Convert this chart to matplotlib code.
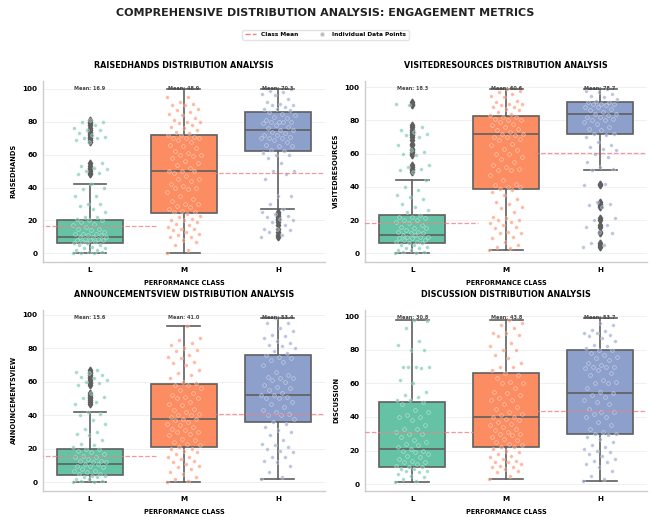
import numpy as np
import matplotlib.pyplot as plt
from matplotlib.lines import Line2D

# ---- data ----
classes = ["L", "M", "H"]
palette = ["#66c2a5", "#fc8d62", "#8da0cb"]
metrics = ["raisedhands", "VisITedResources", "AnnouncementsView", "Discussion"]

# reported class means
means = {
    "raisedhands": [16.9, 48.9, 70.3],
    "VisITedResources": [18.3, 60.6, 78.7],
    "AnnouncementsView": [15.6, 41.0, 53.4],
    "Discussion": [30.8, 43.8, 53.7],
}

# box summaries per class: (whislo, q1, median, q3, whishi)
box_raisedhands = [(0, 6, 10, 20.5, 42), (0, 24.3, 50, 72, 100), (27, 62, 75, 86, 100)]
box_visited = [(0, 6, 11, 23, 44), (2, 38.7, 72, 82.4, 99), (50, 72, 84, 91, 99)]
box_announce = [(0, 4.5, 11, 20, 42), (0, 21, 38, 58.5, 93), (2, 36, 52, 76, 98)]
box_discussion = [(1, 10, 21, 49, 98), (3, 22, 40, 66, 98), (2, 30, 54, 80, 99)]

# outliers per class
fl_raisedhands = [[48, 49, 50, 51, 52, 53, 55, 68, 69, 70, 71, 72, 73, 74, 75, 76, 78, 79, 80, 81],
                  [],
                  [10, 11, 13, 15, 17, 19, 20, 21, 22, 23, 24, 25]]
fl_visited = [[49, 50, 51, 52, 53, 59, 60, 61, 62, 63, 65, 66, 68, 70, 71, 72, 73, 74, 76, 77, 89, 90, 91],
              [],
              [4, 5, 6, 12, 13, 16, 17, 20, 21, 28, 29, 30, 31, 41, 42]]
fl_announce = [[47, 48, 49, 50, 51, 52, 53, 58, 59, 60, 61, 62, 63, 64, 65, 66, 67], [], []]
fl_discussion = [[], [], []]

# individual observations
rh_L = [0, 0, 0, 1, 1, 2, 2, 3, 3, 4, 5, 5, 6, 6, 7, 7, 8, 8, 8, 9, 9, 10, 10, 10, 11, 11, 12, 12, 12, 13,
        14, 15, 15, 16, 17, 18, 19, 20, 20, 21, 22, 22, 25, 27, 29, 30, 30, 35, 35, 39, 40, 42,
        48, 49, 50, 51, 52, 53, 55, 68, 69, 70, 70, 71, 72, 73, 75, 75, 76, 78, 80, 80, 81]
rh_M = [0, 2, 5, 7, 8, 10, 10, 11, 12, 13, 14, 15, 15, 16, 17, 18, 19, 20, 20, 21, 22, 23, 24, 25, 25, 26,
        27, 28, 29, 30, 30, 32, 33, 35, 37, 39, 40, 40, 41, 42, 44, 45, 45, 47, 49, 50, 50, 50, 52, 54, 55,
        56, 58, 59, 60, 60, 61, 62, 64, 65, 66, 68, 69, 70, 70, 70, 71, 72, 72, 73, 74, 75, 76, 77, 78, 79,
        80, 80, 81, 82, 84, 85, 86, 87, 88, 90, 90, 91, 92, 95, 95]
rh_H = [10, 11, 13, 14, 15, 15, 17, 19, 20, 21, 22, 23, 24, 25, 27, 30, 35, 35, 45, 48, 50, 50, 55, 58, 60,
        60, 61, 62, 63, 65, 65, 66, 68, 69, 70, 70, 70, 71, 72, 72, 73, 74, 75, 75, 76, 77, 78, 79, 80, 80,
        80, 80, 81, 82, 83, 84, 85, 86, 87, 88, 88, 89, 90, 90, 91, 92, 94, 96, 97, 98, 99, 100]

vr_L = [0, 0, 1, 1, 2, 2, 3, 3, 4, 5, 5, 6, 6, 7, 7, 8, 8, 9, 9, 10, 10, 10, 11, 11, 12, 12, 13, 13, 14,
        15, 15, 16, 17, 18, 19, 20, 20, 21, 22, 22, 23, 25, 26, 28, 30, 33, 34, 35, 38, 40, 44,
        49, 50, 51, 52, 53, 59, 60, 61, 62, 65, 70, 71, 72, 73, 74, 76, 89, 90]
vr_M = [2, 3, 4, 5, 7, 9, 10, 12, 12, 13, 15, 16, 17, 18, 19, 20, 20, 21, 22, 25, 27, 28, 30, 31, 33, 35,
        37, 38, 39, 40, 40, 41, 42, 44, 47, 50, 50, 51, 52, 53, 55, 57, 58, 60, 60, 62, 63, 65, 66, 68, 69,
        70, 70, 71, 72, 72, 73, 74, 75, 76, 77, 78, 79, 80, 80, 81, 82, 82, 83, 84, 85, 86, 87, 88, 88, 89,
        90, 90, 91, 92, 94, 95, 96, 97, 98, 99]
vr_H = [4, 5, 6, 12, 13, 16, 17, 20, 21, 28, 29, 30, 31, 41, 42, 50, 51, 52, 55, 58, 60, 62, 63, 64, 65,
        67, 70, 71, 72, 72, 74, 75, 76, 78, 79, 80, 80, 81, 82, 82, 83, 84, 84, 85, 86, 87, 88, 88, 89, 90,
        90, 90, 91, 91, 92, 93, 94, 95, 96, 97, 98, 99]

av_L = [0, 0, 1, 1, 2, 2, 3, 3, 4, 4, 5, 5, 6, 7, 7, 8, 9, 10, 10, 11, 11, 12, 12, 13, 13, 14, 15, 15, 16,
        17, 18, 19, 20, 20, 21, 22, 23, 25, 28, 29, 30, 32, 35, 37, 40, 41, 42,
        47, 48, 50, 51, 53, 58, 59, 60, 61, 62, 63, 64, 65, 66, 67]
av_M = [0, 1, 2, 3, 5, 6, 8, 9, 10, 11, 12, 13, 14, 15, 15, 17, 18, 19, 20, 20, 21, 22, 23, 24, 25, 26, 28,
        29, 30, 30, 31, 32, 33, 34, 35, 36, 37, 38, 38, 39, 40, 40, 41, 42, 43, 44, 46, 47, 48, 50, 50, 51,
        52, 53, 55, 56, 58, 58, 59, 60, 62, 64, 65, 67, 70, 71, 72, 74, 75, 76, 78, 79, 80, 82, 83, 85, 86, 93]
av_H = [2, 3, 6, 10, 12, 13, 15, 15, 18, 19, 20, 21, 22, 23, 25, 28, 30, 31, 33, 35, 36, 38, 40, 40, 41, 42,
        43, 45, 47, 48, 50, 50, 51, 52, 52, 53, 55, 56, 57, 58, 60, 61, 62, 62, 63, 64, 66, 70, 72, 73, 74,
        75, 76, 77, 78, 80, 81, 82, 83, 84, 86, 87, 88, 90, 92, 95, 95, 98]

dc_L = [1, 2, 3, 4, 5, 6, 7, 8, 8, 9, 9, 10, 10, 11, 12, 13, 13, 14, 15, 16, 17, 18, 19, 20, 20, 21, 22, 23,
        24, 25, 26, 28, 30, 30, 31, 33, 33, 35, 38, 40, 40, 41, 43, 44, 48, 49, 50, 50, 52, 53, 55, 60, 62,
        69, 70, 70, 70, 70, 80, 80, 83, 85, 93, 97, 98]
dc_M = [3, 5, 7, 8, 9, 10, 10, 11, 12, 13, 13, 14, 15, 16, 17, 18, 19, 20, 21, 22, 22, 23, 24, 25, 26, 27,
        28, 29, 30, 30, 31, 32, 33, 34, 35, 36, 37, 38, 39, 40, 40, 41, 42, 43, 45, 46, 48, 50, 50, 51, 53,
        54, 55, 57, 60, 60, 61, 63, 65, 66, 68, 70, 70, 72, 75, 77, 80, 80, 82, 84, 88, 89, 90, 90, 93, 95,
        96, 98]
dc_H = [2, 3, 5, 8, 10, 12, 13, 14, 15, 17, 18, 19, 20, 21, 22, 23, 25, 27, 28, 29, 30, 30, 31, 33, 35, 37,
        40, 40, 42, 43, 43, 45, 48, 49, 50, 52, 53, 54, 55, 57, 60, 60, 61, 62, 65, 66, 68, 69, 70, 70, 70,
        71, 72, 74, 75, 76, 77, 78, 80, 80, 81, 82, 83, 85, 87, 88, 89, 90, 90, 91, 92, 95, 96]

points = {
    "raisedhands": [rh_L, rh_M, rh_H],
    "VisITedResources": [vr_L, vr_M, vr_H],
    "AnnouncementsView": [av_L, av_M, av_H],
    "Discussion": [dc_L, dc_M, dc_H],
}
boxes = {
    "raisedhands": (box_raisedhands, fl_raisedhands),
    "VisITedResources": (box_visited, fl_visited),
    "AnnouncementsView": (box_announce, fl_announce),
    "Discussion": (box_discussion, fl_discussion),
}

plt.rcParams['font.family'] = ['DejaVu Sans']
fig, axes = plt.subplots(2, 2, figsize=(6.51, 5.17), dpi=100)
plt.subplots_adjust(left=0.066, right=0.994, bottom=0.051, top=0.844, wspace=0.143, hspace=0.266)

edge = "#5f5f5f"
for ax, metric in zip(axes.flat, metrics):
    summ, fliers = boxes[metric]
    stats = []
    for (lo, q1, med, q3, hi), fl in zip(summ, fliers):
        stats.append(dict(whislo=lo, q1=q1, med=med, q3=q3, whishi=hi, fliers=fl))
    bp = ax.bxp(stats, positions=range(3), widths=0.7, patch_artist=True,
                showfliers=True,
                boxprops=dict(edgecolor=edge, linewidth=1.2),
                medianprops=dict(color=edge, linewidth=1.2),
                whiskerprops=dict(color=edge, linewidth=1.2),
                capprops=dict(color=edge, linewidth=1.2),
                flierprops=dict(marker='d', markerfacecolor=edge, markeredgecolor=edge,
                                markersize=3.5))
    for patch, c in zip(bp['boxes'], palette):
        patch.set_facecolor(c)
        patch.set_zorder(2)

    # jittered individual points
    for i, vals in enumerate(points[metric]):
        vals = np.asarray(vals, dtype=float)
        k = np.arange(len(vals))
        jit = ((k * 0.6180339887) % 1.0 - 0.5) * 0.36
        ax.scatter(i + jit, vals, s=7, color=palette[i], alpha=0.6,
                   edgecolors='white', linewidths=0.4, zorder=3)

    ax.autoscale_view()
    ax.set_xlim(-0.5, 2.5)
    top = ax.get_ylim()[1]

    # class means (segments placed in axes fraction)
    for i, m in enumerate(means[metric]):
        ax.axhline(m, xmin=i - 0.4, xmax=i + 0.4, color='#f08080', linestyle='--',
                   linewidth=0.9, alpha=0.8, zorder=4)
        ax.text(i, top * 0.94, f"Mean: {m:.1f}", ha='center', va='bottom',
                fontsize=3.6, fontweight='bold', color='#444444', zorder=5)

    ax.set_xticks(range(3))
    ax.set_xticklabels(classes)
    ax.set_yticks([0, 20, 40, 60, 80, 100])
    ax.tick_params(labelsize=5.2, length=0, pad=4)
    for lbl in ax.get_xticklabels() + ax.get_yticklabels():
        lbl.set_fontweight('bold')
    ax.grid(axis='y', color='#eeeeee', linewidth=0.6, zorder=0)
    ax.set_axisbelow(True)
    for s in ['top', 'right']:
        ax.spines[s].set_visible(False)
    for s in ['left', 'bottom']:
        ax.spines[s].set_color('#cccccc')
        ax.spines[s].set_linewidth(1.0)

    ax.set_title(f"{metric.upper()} DISTRIBUTION ANALYSIS", fontsize=5.8,
                 fontweight='bold', pad=9)
    ax.set_xlabel("PERFORMANCE CLASS", fontsize=4.7, fontweight='bold', labelpad=5)
    ax.set_ylabel(metric.upper(), fontsize=4.8, fontweight='bold', labelpad=4)

fig.suptitle("COMPREHENSIVE DISTRIBUTION ANALYSIS: ENGAGEMENT METRICS",
             fontsize=8, fontweight='bold', y=0.985, color='#222222')

handles = [Line2D([0], [0], color='#f08080', linestyle='--', linewidth=1),
           Line2D([0], [0], marker='o', color='none', markerfacecolor='gray',
                  markeredgecolor='none', alpha=0.5, markersize=3)]
fig.legend(handles, ["Class Mean", "Individual Data Points"], loc='center',
           bbox_to_anchor=(0.5, 0.933), ncol=2, frameon=True,
           edgecolor='#dddddd', handlelength=2, columnspacing=3,
           prop=dict(size=4.2, weight='bold'))

fig.savefig("out.png", dpi=100)
